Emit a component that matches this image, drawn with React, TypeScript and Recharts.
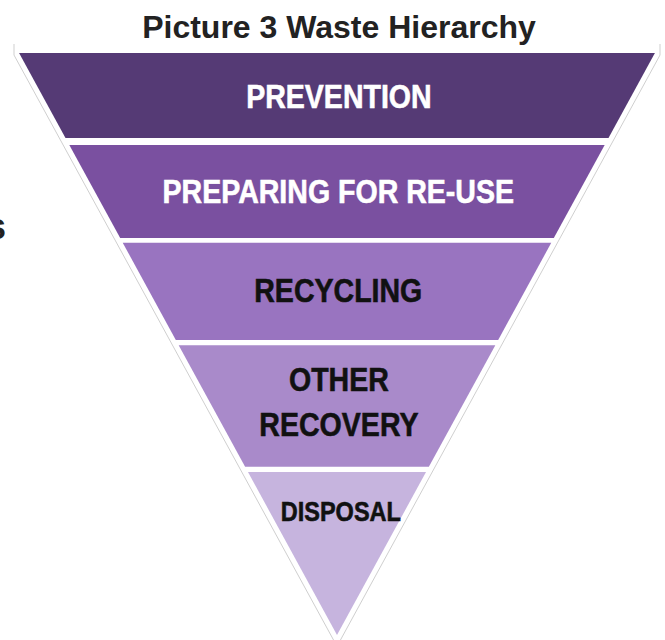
import { ComposedChart, Area, Scatter, XAxis, YAxis } from "recharts"

// tiers of the hierarchy, top (most preferred) to tip
const tiers = ["PREVENTION", "PREPARING FOR RE-USE", "RECYCLING", "OTHER RECOVERY", "DISPOSAL"]
const tierLines = [["PREVENTION"], ["PREPARING FOR RE-USE"], ["RECYCLING"], ["OTHER", "RECOVERY"], ["DISPOSAL"]]
// depth of each band, in % of the triangle height (0 = top edge, 100 = tip)
const tierTop = [0, 15.8, 32.6, 50.2, 72.0]
const tierBottom = [14.6, 31.8, 49.3, 71.1, 100]

const tierColors = ["#553a75", "#7a50a0", "#9974c0", "#a98aca", "#c6b4de"]
const textColors = ["#ffffff", "#ffffff", "#111111", "#111111", "#111111"]
const labelDepth = [7.4, 23.7, 40.7, 59.9, 78.7]
const labelShift = [0.3, 0.2, 0.2, 0.3, 0.6]
const fontSizes = [34, 34, 34, 34, 28]

const TITLE = "Picture 3 Waste Hierarchy"
const HALF = 50 // half of the top edge width
const RIM = 0.8 // white rim around the triangle

const halfWidth = (d: number) => HALF * (1 - d / 100)
const rimHalf = (d: number) => HALF + RIM - (d - 0.35) * (HALF / 100)

// white rim with grey edge (own data so its baseline doesn't run through the other rows)
const rimRows = [
  { depth: -1.55, outline: [-(HALF + RIM), HALF + RIM] },
  { depth: 0.35, outline: [-(HALF + RIM), HALF + RIM] },
  { depth: 100.86, outline: [-rimHalf(100.86), rimHalf(100.86)] },
]

const rows: any[] = []
tiers.forEach((_, i) => {
  rows.push({ depth: tierTop[i], ["t" + i]: [-halfWidth(tierTop[i]), halfWidth(tierTop[i])] })
  rows.push({ depth: tierBottom[i], ["t" + i]: [-halfWidth(tierBottom[i]), halfWidth(tierBottom[i])] })
})

const labels = tiers.map((name, i) => ({ x: labelShift[i], depth: labelDepth[i], name, i }))

const font = "'Liberation Sans', Arial, sans-serif"

function TierLabel(props: any) {
  const { cx, cy, payload } = props
  const i = payload.i
  const lines = tierLines[i]
  const fs = fontSizes[i]
  const gap = 45
  return (
    <g>
      {lines.map((line, k) => {
        const y = cy + 0.36 * fs + (k - (lines.length - 1) / 2) * gap
        return (
          <text
            key={line}
            transform={`translate(${cx} ${y}) scale(0.84 1)`}
            textAnchor="middle"
            fill={textColors[i]}
            stroke={textColors[i]}
            strokeWidth={0.6}
            fontFamily={font}
            fontWeight="bold"
            fontSize={fs}
          >
            {line}
          </text>
        )
      })}
    </g>
  )
}

export default function App() {
  return (
    <div style={{ position: "absolute", left: 0, top: 0, width: 665, height: 640, overflow: "hidden", background: "#fff" }}>
      <ComposedChart
        width={665}
        height={640}
        layout="vertical"
        data={rows}
        margin={{ top: 44, right: 5, bottom: 0, left: 14 }}
      >
        <XAxis type="number" dataKey="x" domain={[-(HALF + RIM), HALF + RIM]} hide />
        <YAxis type="number" dataKey="depth" domain={[-1.55, 100.86]} hide />
        <Area
          data={rimRows}
          dataKey="outline"
          fill="#ffffff"
          fillOpacity={1}
          stroke="#cfcfcf"
          strokeWidth={1}
          activeDot={false}
          isAnimationActive={false}
        />
        {tiers.map((t, i) => (
          <Area
            key={t}
            dataKey={"t" + i}
            fill={tierColors[i]}
            fillOpacity={1}
            stroke="none"
            activeDot={false}
            isAnimationActive={false}
          />
        ))}
        <Scatter data={labels} shape={TierLabel} isAnimationActive={false} />
      </ComposedChart>
      <div
        style={{
          position: "absolute",
          left: 0,
          top: 11,
          width: 678,
          textAlign: "center",
          fontFamily: font,
          fontWeight: "bold",
          fontSize: 32,
          lineHeight: "32px",
          color: "#222",
          whiteSpace: "nowrap",
        }}
      >
        {TITLE}
      </div>
      <div
        style={{
          position: "absolute",
          left: -30,
          top: 209,
          width: 36,
          textAlign: "right",
          fontFamily: font,
          fontWeight: "bold",
          fontSize: 36,
          lineHeight: "36px",
          color: "#222",
        }}
      >
        s
      </div>
    </div>
  )
}
